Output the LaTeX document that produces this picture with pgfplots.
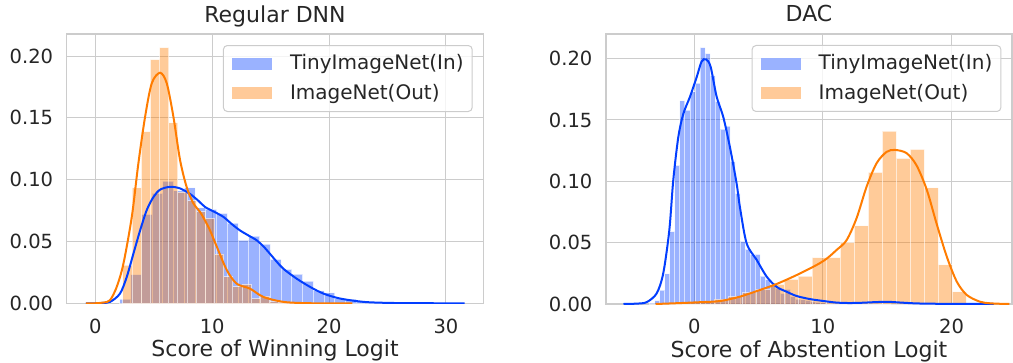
\documentclass[border=0pt]{standalone}
\usepackage{fontspec}
\setmainfont{DejaVu Sans}
\usepackage{pgfplots}
\pgfplotsset{compat=1.18}
\definecolor{sbblue}{HTML}{023EFF}
\definecolor{sborange}{HTML}{FF7C00}
\definecolor{gridc}{HTML}{CCCCCC}
\definecolor{txt}{HTML}{262626}
\definecolor{legblue}{HTML}{9AB2FF}
\definecolor{legorange}{HTML}{FFCA99}

\pgfplotsset{
  sbstyle/.style={
    scale only axis,
    axis line style={gridc, line width=1.25pt},
    grid=major,
    grid style={gridc, line width=1pt},
    major tick length=0pt,
    tick style={draw=none},
    ticklabel style={font=\fontsize{19.5}{23}\selectfont, text=txt},
    /pgf/number format/assume math mode=true,
    xticklabel style={anchor=base, yshift=-29.5pt},
    yticklabel style={anchor=east, xshift=-13.4pt, inner sep=0pt,
      /pgf/number format/fixed, /pgf/number format/fixed zerofill, /pgf/number format/precision=2},
    scaled y ticks=false,
    ymin=0,
    ytick={0,0.05,0.10,0.15,0.20},
    title style={at={(axis description cs:0.5,1)}, anchor=base, yshift=6pt, font=\fontsize{22}{26}\selectfont, text=txt},
    xlabel style={at={(axis description cs:0.5,0)}, anchor=base, yshift=-53.2pt, font=\fontsize{22}{26}\selectfont, text=txt},
    legend style={at={(1,1)}, anchor=north east, xshift=-10.6pt, yshift=-11pt,
      draw=gridc, line width=1pt, rounded corners=4pt, fill=white, fill opacity=0.8, text opacity=1,
      font=\fontsize{20}{24}\selectfont, text=txt,
      inner xsep=8.6pt, inner ysep=8.35pt,
      nodes={inner sep=0pt, text height=16pt, text depth=4pt},
      column sep=18pt, row sep=9.3pt},
    legend cell align=left,
  },
  binblue/.style={ybar interval, fill=sbblue, fill opacity=0.4, draw=white, draw opacity=0.6, line width=1pt,
    legend image code/.code={\path[fill=legblue, fill opacity=1, draw=none, sharp corners] (0pt,-6.15pt) rectangle (40pt,6.15pt);}},
  binorange/.style={ybar interval, fill=sborange, fill opacity=0.4, draw=white, draw opacity=0.6, line width=1pt,
    legend image code/.code={\path[fill=legorange, fill opacity=1, draw=none, sharp corners] (0pt,-6.15pt) rectangle (40pt,6.15pt);}},
  kdeblue/.style={sbblue, line width=2pt, smooth, forget plot},
  kdeorange/.style={sborange, line width=2pt, smooth, forget plot},
}

\begin{document}
\begin{tikzpicture}
\path[use as bounding box] (0,0) rectangle (1013pt,362pt);

% ---------------- Left: Regular DNN ----------------
\begin{axis}[sbstyle,
  at={(66.7pt,58.5pt)}, anchor=south west,
  width=416.6pt, height=269.5pt,
  xmin=-2.45, xmax=33.2, ymax=0.2178,
  xtick={0,10,20,30},
  title={Regular DNN},
  xlabel={Score of Winning Logit},
]
\addplot[binblue] coordinates {
(2.10,0.0035) (3.02,0.0234) (3.94,0.072) (4.86,0.089) (5.78,0.099) (6.70,0.091)
(7.62,0.0935) (8.54,0.0773) (9.46,0.076) (10.38,0.0728) (11.30,0.065) (12.22,0.0512)
(13.14,0.0544) (14.06,0.048) (14.98,0.0356) (15.90,0.0275) (16.82,0.0237) (17.74,0.018)
(18.66,0.0102) (19.58,0.0086) (20.50,0.0037) (21.42,0.0035) (22.34,0.002) (23.26,0.0012)
(24.18,0.0008) (25.10,0.0005) (26.02,0.0003) (26.94,0.0003) (27.86,0.0002) (28.78,0.0002)
(29.70,0.0001) (30.62,0.0001)
};
\addlegendentry{TinyImageNet(In)}
\addplot[binorange] coordinates {
(2.36,0.031) (3.145,0.0935) (3.93,0.139) (4.715,0.197) (5.5,0.2067) (6.285,0.146)
(7.07,0.090) (7.855,0.083) (8.64,0.074) (9.425,0.0687) (10.21,0.040) (10.995,0.0215)
(11.78,0.0134) (12.565,0.0154) (13.35,0.004) (14.135,0.006) (14.92,0.0015) (15.705,0.0012)
(16.49,0.0008) (17.275,0.0005) (18.06,0.0004) (18.845,0.0003) (19.63,0.0002) (20.415,0.0002)
};
\addlegendentry{ImageNet(Out)}
\addplot[kdeblue] coordinates {
(-0.8,0) (0.5,0.0004) (1.26,0.0013) (2.11,0.008) (2.69,0.0215) (3.25,0.040) (3.83,0.059)
(4.40,0.0755) (4.97,0.086) (5.54,0.092) (6.40,0.0943) (7.25,0.093) (8.11,0.0885) (8.82,0.083)
(9.39,0.078) (10.2,0.074) (10.96,0.070) (11.7,0.064) (12.39,0.059) (13.1,0.055) (13.82,0.051)
(14.4,0.046) (14.96,0.040) (15.5,0.034) (16.1,0.028) (17.24,0.020) (18.38,0.0134) (19.52,0.008)
(20.95,0.004) (22.97,0.0013) (25,0.0005) (27,0.0003) (29,0.0002) (31.6,0)
};
\addplot[kdeorange] coordinates {
(-0.8,0) (0,0.0002) (0.71,0.0008) (1.26,0.0027) (1.83,0.0134) (2.40,0.032) (3.12,0.070)
(3.68,0.113) (4.26,0.151) (4.83,0.178) (5.54,0.1865) (6.11,0.178) (6.68,0.151) (7.25,0.116)
(7.82,0.094) (8.39,0.081) (8.96,0.074) (9.39,0.067) (9.82,0.059) (10.39,0.046) (11.25,0.027)
(12.1,0.016) (13.24,0.012) (14.38,0.0053) (16.1,0.0013) (18,0.0003) (20,0.0001) (22,0)
};
\end{axis}

% ---------------- Right: DAC ----------------
\begin{axis}[sbstyle,
  at={(606pt,58pt)}, anchor=south west,
  width=406pt, height=270pt,
  xmin=-6.86, xmax=24.7, ymax=0.2201,
  xtick={0,10,20},
  title={DAC},
  xlabel={Score of Abstention Logit},
]
\addplot[binblue] coordinates {
(-3.45,0.0008) (-3.06,0.0027) (-2.67,0.0114) (-2.28,0.0245) (-1.89,0.059) (-1.50,0.113)
(-1.11,0.1655) (-0.72,0.158) (-0.33,0.173) (0.06,0.180) (0.45,0.209) (0.84,0.204)
(1.23,0.186) (1.62,0.165) (2.01,0.1425) (2.40,0.145) (2.79,0.116) (3.18,0.090)
(3.57,0.051) (3.96,0.0446) (4.35,0.040) (4.74,0.0405) (5.13,0.0228) (5.52,0.0196)
(5.91,0.0147) (6.30,0.0128) (6.69,0.0087) (7.08,0.012) (7.47,0.006) (7.86,0.004)
(8.25,0.0035) (8.64,0.003) (9.03,0.002) (9.42,0.0015) (9.81,0.001) (10.20,0.0008)
(10.59,0.0006) (10.98,0.0005) (11.37,0.0005) (11.76,0.0005) (12.15,0.0005) (12.54,0.0005)
(12.93,0.0005) (13.32,0.0005) (13.71,0.0005) (14.10,0.0005) (14.49,0.0005) (14.88,0.0005)
(15.27,0.0005)
};
\addlegendentry{TinyImageNet(In)}
\addplot[binorange] coordinates {
(-1.73,0.0005) (-0.64,0.001) (0.45,0.002) (1.54,0.004) (2.63,0.006) (3.72,0.009)
(4.81,0.012) (5.90,0.016) (6.99,0.020) (8.08,0.0228) (9.17,0.0378) (10.26,0.0378)
(11.35,0.0503) (12.44,0.0636) (13.53,0.1074) (14.62,0.141) (15.71,0.1188) (16.80,0.126)
(17.89,0.0946) (18.98,0.0318) (20.07,0.0098) (21.16,0.0098)
};
\addlegendentry{ImageNet(Out)}
\addplot[kdeblue] coordinates {
(-5.5,0) (-4.5,0.0003) (-3.7,0.0015) (-2.92,0.0087) (-2.41,0.025) (-1.94,0.060) (-1.63,0.101)
(-1.24,0.136) (-0.85,0.155) (-0.33,0.169) (0.19,0.185) (0.57,0.1976) (0.91,0.1995) (1.27,0.1935)
(1.74,0.169) (2.25,0.1527) (2.77,0.128) (3.29,0.0984) (3.55,0.079) (4.07,0.0495) (4.85,0.036)
(5.63,0.0223) (6.40,0.014) (7.18,0.010) (7.96,0.0065) (9,0.004) (10,0.0025) (11,0.0012)
(12,0.0008) (13,0.001) (14,0.0015) (15,0.0018) (16,0.0012) (17,0.0006) (18,0.0003) (20,0.0001)
(23.3,0)
};
\addplot[kdeorange] coordinates {
(-3.0,0) (-1,0.0008) (0.5,0.0015) (2.0,0.0024) (3.55,0.006) (5.1,0.0114) (6.4,0.0163)
(7.96,0.0236) (9.51,0.0318) (10.3,0.037) (11.06,0.044) (11.84,0.052) (12.62,0.070) (13.4,0.0957)
(14.17,0.1147) (14.95,0.124) (15.6,0.1256) (16.5,0.123) (17.28,0.113) (18.08,0.093) (18.83,0.0658)
(19.63,0.0386) (20.41,0.0182) (21.19,0.0073) (22.2,0.0019) (22.97,0.0006) (24,0.0001) (24.5,0)
};
\end{axis}
\end{tikzpicture}
\end{document}
